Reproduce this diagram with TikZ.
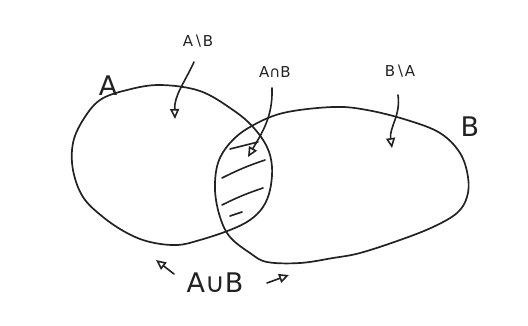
\documentclass[tikz,border=0pt]{standalone}
\usepackage{fontspec}
\setmainfont{DejaVu Sans}
\usetikzlibrary{arrows.meta}
\definecolor{ink}{HTML}{222222}
\tikzset{
  outline/.style={draw=ink, line width=1.7pt, line join=round},
  hatch/.style={draw=ink, line width=1.6pt, line cap=round},
  arr/.style={draw=ink, line width=1.6pt, line cap=round, -{Triangle[open, length=10pt, width=9pt, line width=1.6pt]}},
  biglab/.style={text=ink, font=\fontsize{27}{27}\selectfont, inner sep=0pt},
  smalllab/.style={text=ink, font=\fontsize{15}{15}\selectfont, inner sep=0pt},
}
\begin{document}
\begin{tikzpicture}[x=1pt, y=-1pt]
\useasboundingbox (0,0) rectangle (528,325);
\fill[white] (0,0) rectangle (528,325);
% set A
\draw[outline] plot[smooth cycle, tension=0.6] coordinates {
 (73,143) (83,120) (100,100) (127,90) (160,85) (200,91) (233,110) (253,127)
 (267,147) (272,167) (270,190) (263,207) (250,220) (230,230) (200,240)
 (177,245) (150,242) (127,233) (103,217) (83,197) (73,170)};
% set B
\draw[outline] plot[smooth cycle, tension=0.6] coordinates {
 (215,190) (218,163) (230,143) (250,127) (283,113) (333,107) (367,110)
 (407,120) (440,133) (460,153) (468,177) (467,197) (457,213) (433,227)
 (400,240) (360,253) (333,258) (300,263) (267,262) (250,253) (230,237) (220,217)};
% hatching of the intersection
\draw[hatch] (230,149) -- (258,142);
\draw[hatch] (222,178) to[bend left=4] (265,160);
\draw[hatch] (222,205) to[bend left=4] (263,188);
\draw[hatch] (230,216) -- (242,212);
% labels
\node[biglab] (lA) at (108,86) {A};
\node[biglab] (lB) at (470,127) {B};
\node[smalllab] (lAmB) at (198,41) {A∖B};
\node[smalllab] (lAnB) at (275,72) {A∩B};
\node[smalllab] (lBmA) at (400,71) {B∖A};
\node[biglab] (lAuB) at (215,283) {A∪B};
% arrow ends
\coordinate (tAmB) at (194,62);
\coordinate (hAmB) at (175,119);
\coordinate (tAnB) at (272,88);
\coordinate (hAnB) at (248,157);
\coordinate (tBmA) at (398,95);
\coordinate (hBmA) at (392,148);
\coordinate (tUl) at (174,274);
\coordinate (hUl) at (156,260);
\coordinate (tUr) at (267,283);
\coordinate (hUr) at (289,275);
% arrows
\draw[arr] (tAmB) to[out=-115, in=92] (hAmB);
\draw[arr] (tAnB) to[out=-88, in=60] (hAnB);
\draw[arr] (tBmA) to[out=-82, in=98] (hBmA);
\draw[arr] (tUl) -- (hUl);
\draw[arr] (tUr) -- (hUr);
\end{tikzpicture}
\end{document}
